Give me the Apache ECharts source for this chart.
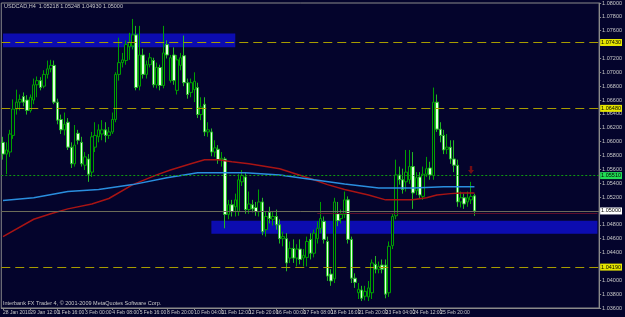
<!DOCTYPE html>
<html>
<head>
<meta charset="utf-8">
<script src="https://cdn.jsdelivr.net/npm/echarts@6/dist/echarts.min.js"></script>
<style>
  html, body { margin: 0; background: #04042c; }
  #chart { width: 625px; height: 317px; }
</style>
</head>
<body>
<div id="chart"></div>
<script>
// USDCAD H4 candles, 28 Jan - 1 Mar 2010
const opens = [
  1.0599,1.0582,1.0585,1.0609,1.0647,1.0657,1.0665,1.0660,1.0645,1.0660,
  1.0682,1.0688,1.0680,1.0697,1.0705,1.0710,1.0657,1.0632,1.0617,1.0628,
  1.0592,1.0568,1.0612,1.0599,1.0566,1.0575,1.0556,1.0592,1.0607,1.0611,
  1.0617,1.0609,1.0614,1.0632,1.0697,1.0714,1.0717,1.0737,1.0738,1.0754,
  1.0680,1.0725,1.0697,1.0711,1.0717,1.0682,1.0707,1.0681,1.0740,1.0688,
  1.0725,1.0674,1.0710,1.0724,1.0685,1.0671,1.0675,1.0678,1.0639,1.0654,
  1.0614,1.0614,1.0585,1.0589,1.0574,1.0575,1.0495,1.0509,1.0506,1.0499,
  1.0542,1.0549,1.0502,1.0509,1.0505,1.0499,1.0513,1.0473,1.0498,1.0488,
  1.0492,1.0480,1.0460,1.0460,1.0432,1.0446,1.0432,1.0445,1.0432,1.0433,
  1.0459,1.0439,1.0460,1.0475,1.0485,1.0456,1.0409,1.0402,1.0496,1.0489,
  1.0495,1.0516,1.0459,1.0403,1.0382,1.0386,1.0377,1.0376,1.0382,1.0423,
  1.0416,1.0422,1.0422,1.0382,1.0450,1.0493,1.0552,1.0545,1.0542,1.0545,
  1.0564,1.0529,1.0549,1.0521,1.0553,1.0562,1.0551,1.0657,1.0618,1.0609,
  1.0589,1.0592,1.0575,1.0566,1.0513,1.0519,1.0513,1.0516,1.05218
];
const closes = [
  1.0582,1.0588,1.0611,1.0647,1.0657,1.0661,1.0657,1.0645,1.0664,1.0682,
  1.0688,1.0678,1.0697,1.0705,1.0710,1.0657,1.0631,1.0617,1.0625,1.0592,
  1.0568,1.0595,1.0602,1.0568,1.0578,1.0553,1.0607,1.0609,1.0617,1.0617,
  1.0609,1.0614,1.0632,1.0697,1.0714,1.0718,1.0740,1.0743,1.0754,1.0678,
  1.0725,1.0697,1.0711,1.0721,1.0682,1.0707,1.0681,1.0728,1.0725,1.0721,
  1.0688,1.0718,1.0721,1.0685,1.0668,1.0685,1.0687,1.0639,1.0650,1.0614,
  1.0617,1.0585,1.0591,1.0574,1.0576,1.0495,1.0509,1.0499,1.0516,1.0545,
  1.0551,1.0502,1.0510,1.0503,1.0499,1.0513,1.0470,1.0492,1.0489,1.0492,
  1.0480,1.0460,1.0463,1.0425,1.0446,1.0432,1.0445,1.0430,1.0436,1.0456,
  1.0439,1.0468,1.0475,1.0489,1.0459,1.0406,1.0399,1.0513,1.0486,1.0495,
  1.0516,1.0459,1.0403,1.0397,1.0387,1.0374,1.0384,1.0389,1.0425,1.0416,
  1.0420,1.0416,1.0380,1.0449,1.0492,1.0552,1.0545,1.0531,1.0556,1.0564,
  1.0526,1.0548,1.0523,1.0553,1.0561,1.0552,1.0657,1.0618,1.0609,1.0588,
  1.0592,1.0575,1.0566,1.0513,1.0519,1.0510,1.0519,1.0521,1.05000
];
const lows = [
  1.0574,1.0553,1.0578,1.0604,1.0639,1.0645,1.0651,1.0639,1.0642,1.0654,
  1.0664,1.0674,1.0677,1.0691,1.0700,1.0654,1.0625,1.0611,1.0609,1.0588,
  1.0562,1.0564,1.0596,1.0564,1.0559,1.0542,1.0549,1.0585,1.0599,1.0602,
  1.0599,1.0604,1.0611,1.0628,1.0688,1.0707,1.0711,1.0718,1.0733,1.0674,
  1.0674,1.0691,1.0691,1.0707,1.0678,1.0677,1.0674,1.0677,1.0720,1.0685,
  1.0682,1.0668,1.0703,1.0680,1.0662,1.0664,1.0657,1.0634,1.0631,1.0608,
  1.0607,1.0579,1.0578,1.0568,1.0564,1.0475,1.0488,1.0492,1.0492,1.0493,
  1.0536,1.0496,1.0496,1.0498,1.0493,1.0492,1.0465,1.0463,1.0482,1.0479,
  1.0473,1.0453,1.0449,1.0413,1.0425,1.0425,1.0420,1.0423,1.0420,1.0420,
  1.0430,1.0433,1.0453,1.0468,1.0453,1.0399,1.0392,1.0396,1.0478,1.0482,
  1.0490,1.0453,1.0396,1.0389,1.0373,1.0370,1.0371,1.0370,1.0373,1.0410,
  1.0410,1.0410,1.0374,1.0376,1.0445,1.0488,1.0538,1.0525,1.0528,1.0539,
  1.0503,1.0523,1.0518,1.0516,1.0549,1.0545,1.0545,1.0614,1.0599,1.0582,
  1.0582,1.0568,1.0556,1.0506,1.0505,1.0503,1.0506,1.0510,1.04930
];
const highs = [
  1.0607,1.0599,1.0617,1.0661,1.0675,1.0668,1.0671,1.0667,1.0668,1.0691,
  1.0694,1.0693,1.0703,1.0717,1.0718,1.0717,1.0662,1.0639,1.0642,1.0634,
  1.0599,1.0624,1.0617,1.0607,1.0585,1.0582,1.0614,1.0628,1.0625,1.0631,
  1.0628,1.0621,1.0642,1.0700,1.0750,1.0728,1.0746,1.0757,1.0777,1.0767,
  1.0767,1.0734,1.0717,1.0728,1.0721,1.0714,1.0711,1.0767,1.0746,1.0725,
  1.0736,1.0725,1.0728,1.0753,1.0691,1.0691,1.0700,1.0685,1.0664,1.0664,
  1.0628,1.0619,1.0602,1.0595,1.0585,1.0578,1.0516,1.0516,1.0525,1.0553,
  1.0559,1.0556,1.0528,1.0516,1.0513,1.0531,1.0519,1.0499,1.0506,1.0499,
  1.0502,1.0488,1.0470,1.0468,1.0456,1.0459,1.0452,1.0459,1.0445,1.0463,
  1.0468,1.0473,1.0485,1.0513,1.0492,1.0463,1.0416,1.0519,1.0513,1.0502,
  1.0528,1.0521,1.0463,1.0410,1.0396,1.0392,1.0392,1.0399,1.0430,1.0435,
  1.0427,1.0430,1.0430,1.0456,1.0496,1.0574,1.0564,1.0561,1.0588,1.0588,
  1.0585,1.0556,1.0556,1.0564,1.0578,1.0571,1.0678,1.0668,1.0628,1.0617,
  1.0611,1.0602,1.0602,1.0574,1.0528,1.0525,1.0528,1.0542,1.05248
];

// moving averages, read at bar positions
const maRedIdx = [0,9,14,19,26,31,38,45,49,55,59,63,67,72,81,86,91,95,100,107,112,115,120,124,127,131,134,138];
const maRed = [1.0463,1.0488,1.0496,1.0503,1.0510,1.0518,1.0538,1.0552,1.0559,1.0568,1.0574,1.0574,1.0571,1.0568,1.0561,1.0553,1.0545,1.0538,1.0531,1.0523,1.0516,1.0516,1.0516,1.0519,1.0523,1.0525,1.0526,1.0526];
const maBlueIdx = [0,9,19,28,38,48,57,67,71,81,91,100,110,120,129,138];
const maBlue = [1.0515,1.0519,1.0528,1.0531,1.0538,1.0548,1.0555,1.0555,1.0555,1.0552,1.0545,1.0539,1.0533,1.0533,1.0535,1.0535];

// horizontal levels
const dashedLevels = [1.0743, 1.0648, 1.0419];
const dottedLevel = 1.0551;
const bidPrice = 1.05000;
const redLevel = 1.0496;
const redLevelStart = 92;

// rectangles [fromBar, toBar, top, bottom]
const zones = [
  [0, 68, 1.0756, 1.0736],
  [61, 174, 1.0486, 1.0467]
];

// sell arrow
const arrowBar = 137;
const arrowPrice = 1.0559;

const timeLabels = ['28 Jan 2010','29 Jan 12:00','1 Feb 16:00','3 Feb 00:00','4 Feb 08:00','5 Feb 16:00',
  '8 Feb 20:00','10 Feb 04:00','11 Feb 12:00','12 Feb 20:00','16 Feb 00:00','17 Feb 08:00','18 Feb 16:00',
  '21 Feb 20:00','23 Feb 04:00','24 Feb 12:00','25 Feb 20:00','1 Mar 00:00'];

const totalSlots = 175;
const cats = [];
for (let i = 0; i < totalSlots; i++) cats.push(String(i));

const candles = opens.map((o, i) => [o, closes[i], lows[i], highs[i]]);

const font = 'Liberation Sans';
const txt = '#c8c8c8';
const axisCol = '#8a8a8a';
const showTick = (i) => i % 8 === 0 && i / 8 < timeLabels.length;

function levelLabel(bg) {
  return {
    show: true, position: 'end', distance: 1,
    formatter: (p) => Number(p.value).toFixed(5),
    color: '#000', fontSize: 5.5, fontFamily: font,
    backgroundColor: bg, padding: [1, 1, 0, 1]
  };
}

const markLines = [];
dashedLevels.forEach((v) => {
  markLines.push({ yAxis: v, lineStyle: { color: '#a89c00', type: [9, 5], width: 1 }, label: levelLabel('#e6e600') });
});
markLines.push({ yAxis: dottedLevel, lineStyle: { color: '#109a10', type: [2, 2], width: 1 }, label: levelLabel('#22dd55') });
markLines.push({ yAxis: bidPrice, lineStyle: { color: '#6c6c58', type: 'solid', width: 1 }, label: levelLabel('#ffffff') });
markLines.push([
  { coord: [redLevelStart, redLevel], lineStyle: { color: '#5c0c2c', type: 'solid', width: 1 }, label: { show: false } },
  { coord: [totalSlots - 1, redLevel] }
]);

const chart = echarts.init(document.getElementById('chart'));

const option = {
  backgroundColor: '#04042c',
  animation: false,
  grid: {
    left: 1, right: 17, top: 1, bottom: 9,
    show: true, borderColor: axisCol, borderWidth: 1
  },
  xAxis: {
    type: 'category',
    data: cats,
    boundaryGap: true,
    axisLine: { show: true, lineStyle: { color: axisCol } },
    axisTick: { show: true, alignWithLabel: true, interval: showTick, length: 2, lineStyle: { color: axisCol } },
    axisLabel: {
      interval: showTick,
      showMinLabel: true,
      hideOverlap: false,
      formatter: (v, i) => timeLabels[i / 8] || '',
      color: txt, fontSize: 5, fontFamily: font, align: 'left', margin: 2
    },
    splitLine: { show: false }
  },
  yAxis: {
    type: 'value',
    position: 'right',
    min: 1.036,
    max: 1.080,
    interval: 0.002,
    axisLine: { show: true, lineStyle: { color: axisCol } },
    axisTick: { show: true, length: 2, lineStyle: { color: axisCol } },
    axisLabel: { formatter: (v) => v.toFixed(5), color: txt, fontSize: 5.5, fontFamily: font, margin: 3 },
    splitLine: { show: false }
  },
  series: [
    {
      type: 'candlestick',
      data: candles,
      barWidth: 3,
      itemStyle: {
        color: '#04042c',
        color0: '#e4ffe4',
        borderColor: '#00a000',
        borderColor0: '#22b822',
        borderWidth: 1
      },
      markLine: { silent: true, precision: 5, symbol: ['none', 'none'], data: markLines },
      z: 2
    },
    {
      type: 'line',
      data: maRedIdx.map((x, k) => [x, maRed[k]]),
      showSymbol: false,
      lineStyle: { color: '#a81414', width: 1.5 },
      z: 3
    },
    {
      type: 'line',
      data: maBlueIdx.map((x, k) => [x, maBlue[k]]),
      showSymbol: false,
      lineStyle: { color: '#2a8ede', width: 1.5 },
      z: 3
    },
    {
      type: 'scatter',
      data: [[arrowBar, arrowPrice]],
      symbol: 'path://M3,0 L7,0 L7,6 L10,6 L5,12 L0,6 L3,6 Z',
      symbolSize: [6, 8],
      itemStyle: { color: '#8e1010' },
      z: 4
    },
    {
      type: 'line',
      data: [],
      silent: true,
      markArea: {
        silent: true,
        itemStyle: { color: 'rgba(14,14,200,0.85)' },
        data: zones.map((z) => [{ xAxis: z[0], yAxis: z[2] }, { xAxis: z[1], yAxis: z[3] }])
      },
      z: 5
    }
  ],
  graphic: [
    {
      type: 'text', left: 4, top: 3,
      style: { text: 'USDCAD,H4  1.05218 1.05248 1.04930 1.05000', fill: txt, fontSize: 5.5, fontFamily: font }
    },
    {
      type: 'text', left: 3, top: 300,
      style: { text: 'Interbank FX Trader 4, © 2001-2009 MetaQuotes Software Corp.', fill: txt, fontSize: 5.5, fontFamily: font }
    }
  ]
};

chart.setOption(option);
</script>
</body>
</html>
